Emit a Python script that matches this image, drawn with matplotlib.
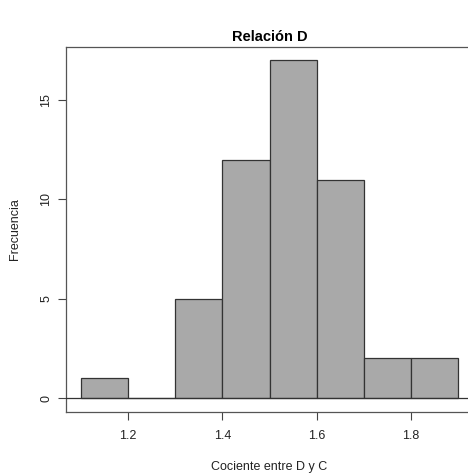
import numpy as np
import matplotlib.pyplot as plt

plt.switch_backend('agg')
plt.rcParams['font.family'] = ['Liberation Sans', 'DejaVu Sans']

# Histograma del cociente entre D y C
bordes = [1.1, 1.2, 1.3, 1.4, 1.5, 1.6, 1.7, 1.8, 1.9]
frecuencias = [1, 0, 5, 12, 17, 11, 2, 2]
xticks = [1.2, 1.4, 1.6, 1.8]
yticks = [0, 5, 10, 15]

fig = plt.figure(figsize=(4.68, 4.73), dpi=100)
ax = fig.add_axes([0.141, 0.130, 0.870, 0.771])

izq = np.array(bordes[:-1])
anchos = np.diff(bordes)
ax.bar(izq, frecuencias, width=anchos, align='edge', color='#a9a9a9',
       edgecolor='#333333', linewidth=0.9, zorder=2)
ax.axhline(0, color='#333333', linewidth=0.9, zorder=3)

ax.set_xlim(1.068, 1.932)
ax.set_ylim(-0.68, 17.68)
ax.set_xticks(xticks)
ax.set_xticklabels([f'{t:.1f}' for t in xticks])
ax.set_yticks(yticks)
ax.set_yticklabels([str(t) for t in yticks], rotation=90, va='center')
ax.tick_params(direction='out', length=6, width=0.8, color='#444444',
               labelsize=9, labelcolor='#222222')
ax.tick_params(axis='x', pad=7)
ax.tick_params(axis='y', pad=4)

for s in ax.spines.values():
    s.set_color('#555555')
    s.set_linewidth(0.9)

ax.set_title('Relación D', fontsize=10.5, fontweight='bold', pad=4)
ax.set_xlabel('Cociente entre D y C', fontsize=9, labelpad=14, color='#222222')
ax.set_ylabel('Frecuencia', fontsize=9, labelpad=14, color='#222222')

fig.savefig('out.png', dpi=100)
plt.close()
